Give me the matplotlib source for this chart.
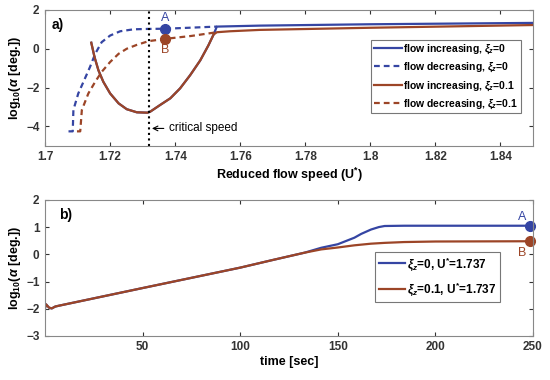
import matplotlib
matplotlib.use("Agg")
import matplotlib.pyplot as plt

plt.rcParams["font.family"] = ["Liberation Sans", "DejaVu Sans"]
plt.rcParams["font.weight"] = "bold"
plt.rcParams["axes.labelweight"] = "bold"
plt.rcParams["mathtext.fontset"] = "custom"
plt.rcParams["mathtext.it"] = "Liberation Sans:italic:bold"
plt.rcParams["mathtext.rm"] = "Liberation Sans:bold"

BLUE = "#3545a3"
BROWN = "#9c4527"
DASH = (0, (2.6, 1.8))

# ---- panel a) response vs reduced flow speed ----
u_inc0 = [1.7142, 1.7152, 1.7164, 1.7179, 1.72, 1.7226, 1.7251, 1.7282, 1.7315,
          1.7323, 1.7354, 1.7385, 1.7415, 1.7446, 1.7477, 1.7502, 1.7518,
          1.7528, 1.766, 1.80, 1.85]
a_inc0 = [0.31, -0.43, -1.11, -1.70, -2.30, -2.81, -3.11, -3.27, -3.29,
          -3.24, -2.89, -2.55, -2.04, -1.36, -0.60, 0.17, 0.73,
          1.14, 1.19, 1.26, 1.33]
u_dec0 = [1.7072, 1.7085, 1.7087, 1.7102, 1.7118, 1.7138, 1.7154, 1.7174,
          1.72, 1.7231, 1.7272, 1.7315, 1.737, 1.7528]
a_dec0 = [-4.25, -4.25, -3.15, -2.30, -1.70, -0.94, -0.26, 0.34,
          0.68, 0.90, 1.0, 1.02, 1.03, 1.14]
u_inc1 = [1.7142, 1.7152, 1.7164, 1.7179, 1.72, 1.7226, 1.7251, 1.7282, 1.7315,
          1.7323, 1.7354, 1.7385, 1.7415, 1.7446, 1.7477, 1.7502, 1.7518,
          1.7528, 1.7569, 1.766, 1.80, 1.85]
a_inc1 = [0.31, -0.43, -1.11, -1.70, -2.30, -2.81, -3.11, -3.27, -3.29,
          -3.24, -2.89, -2.55, -2.04, -1.36, -0.60, 0.17, 0.73,
          0.85, 0.90, 0.97, 1.08, 1.22]
u_dec1 = [1.7098, 1.7108, 1.7113, 1.7133, 1.7154, 1.7174, 1.72, 1.7226,
          1.7251, 1.7282, 1.7318, 1.737, 1.745, 1.7528]
a_dec1 = [-4.25, -4.25, -3.15, -2.30, -1.70, -1.19, -0.68, -0.26,
          0.0, 0.20, 0.39, 0.51, 0.66, 0.85]
u_crit = 1.732
u_mark = 1.737
a_markA = 1.03
a_markB = 0.51

# ---- panel b) time histories at U*=1.737 ----
t0 = [0, 0.5, 2, 3.4, 5.2, 7.7, 50, 100, 116, 133, 141.5, 150, 158.5, 162,
      167, 171, 174, 184, 200, 250]
y0 = [-1.96, -1.84, -1.96, -1.99, -1.92, -1.88, -1.24, -0.49, -0.22, 0.06,
      0.24, 0.37, 0.61, 0.75, 0.91, 1.0, 1.04, 1.05, 1.05, 1.05]
t1 = [0, 0.5, 2, 3.4, 5.2, 7.7, 50, 100, 116, 133, 141.5, 150, 158.5, 167,
      174, 184, 200, 250]
y1 = [-1.96, -1.84, -1.96, -1.99, -1.92, -1.88, -1.24, -0.49, -0.22, 0.06,
      0.18, 0.25, 0.33, 0.39, 0.42, 0.45, 0.47, 0.48]
t_mark = 248.5

fig = plt.figure(figsize=(5.5, 3.8), dpi=100)
ax1 = fig.add_axes([0.082, 0.616, 0.887, 0.358])
ax2 = fig.add_axes([0.082, 0.116, 0.887, 0.358])

ax1.plot(u_inc0, a_inc0, color=BLUE, lw=1.6, label=r"flow increasing, $\xi_z$=0")
ax1.plot(u_dec0, a_dec0, color=BLUE, lw=1.6, ls=DASH,
         label=r"flow decreasing, $\xi_z$=0")
ax1.plot(u_inc1, a_inc1, color=BROWN, lw=1.6, label=r"flow increasing, $\xi_z$=0.1")
ax1.plot(u_dec1, a_dec1, color=BROWN, lw=1.6, ls=DASH,
         label=r"flow decreasing, $\xi_z$=0.1")
ax1.axvline(u_crit, color="black", ls=":", lw=1.5)
ax1.plot([u_mark], [a_markA], "o", color=BLUE, ms=7)
ax1.plot([u_mark], [a_markB], "o", color=BROWN, ms=7)
ax1.text(u_mark, a_markA + 0.22, "A", color=BLUE, ha="center", va="bottom",
         fontsize=9, fontweight="normal")
ax1.text(u_mark, a_markB - 0.25, "B", color=BROWN, ha="center", va="top",
         fontsize=9, fontweight="normal")
ax1.annotate("critical speed", xy=(u_crit, -4.1), xytext=(1.7382, -4.1),
             fontsize=8.5, fontweight="normal", va="center",
             arrowprops=dict(arrowstyle="->", color="black", lw=0.8))
ax1.text(1.702, 1.2, "a)", fontsize=10, va="center")
ax1.set_xlim(1.7, 1.85)
ax1.set_ylim(-5, 2)
ax1.set_xticks([1.7, 1.72, 1.74, 1.76, 1.78, 1.8, 1.82, 1.84])
ax1.set_xticklabels(["1.7", "1.72", "1.74", "1.76", "1.78", "1.8", "1.82", "1.84"])
ax1.set_yticks([-4, -2, 0, 2])
ax1.set_xlabel(r"Reduced flow speed (U$^{*}$)", fontsize=9, labelpad=2)
ax1.set_ylabel(r"log$_{10}$($\alpha$ [deg.])", fontsize=9, labelpad=2)
leg1 = ax1.legend(loc="upper right", bbox_to_anchor=(0.975, 0.78), fontsize=7.5,
                  frameon=True, fancybox=False, edgecolor="#555555",
                  handlelength=2.7, handletextpad=0.1, borderpad=0.25,
                  labelspacing=0.45, borderaxespad=0)
leg1.get_frame().set_linewidth(0.8)

ax2.plot(t0, y0, color=BLUE, lw=1.6, label=r"$\xi_z$=0, U$^{*}$=1.737")
ax2.plot(t1, y1, color=BROWN, lw=1.6, label=r"$\xi_z$=0.1, U$^{*}$=1.737")
ax2.plot([t_mark], [y0[-1]], "o", color=BLUE, ms=7, clip_on=False)
ax2.plot([t_mark], [y1[-1]], "o", color=BROWN, ms=7, clip_on=False)
ax2.text(t_mark - 4, y0[-1] + 0.1, "A", color=BLUE, ha="center", va="bottom",
         fontsize=9, fontweight="normal")
ax2.text(t_mark - 4, y1[-1] - 0.2, "B", color=BROWN, ha="center", va="top",
         fontsize=9, fontweight="normal")
ax2.text(7, 1.45, "b)", fontsize=10, va="center")
ax2.set_xlim(0, 250)
ax2.set_ylim(-3, 2)
ax2.set_xticks([50, 100, 150, 200, 250])
ax2.set_yticks([-3, -2, -1, 0, 1, 2])
ax2.set_xlabel("time [sec]", fontsize=9, labelpad=2)
ax2.set_ylabel(r"log$_{10}$($\alpha$ [deg.])", fontsize=9, labelpad=2)
leg2 = ax2.legend(loc="upper right", bbox_to_anchor=(0.932, 0.618), fontsize=8.5,
                  frameon=True, fancybox=False, edgecolor="#555555",
                  handlelength=2.2, handletextpad=0.2, borderpad=0.3,
                  labelspacing=0.7, borderaxespad=0)
leg2.get_frame().set_linewidth(0.8)

for ax in (ax1, ax2):
    ax.tick_params(direction="in", top=True, right=True, labelsize=8.5,
                   colors="#333333", length=3, pad=4)
    for sp in ax.spines.values():
        sp.set_color("#888888")
        sp.set_linewidth(0.8)

fig.savefig("out.png", dpi=100)
